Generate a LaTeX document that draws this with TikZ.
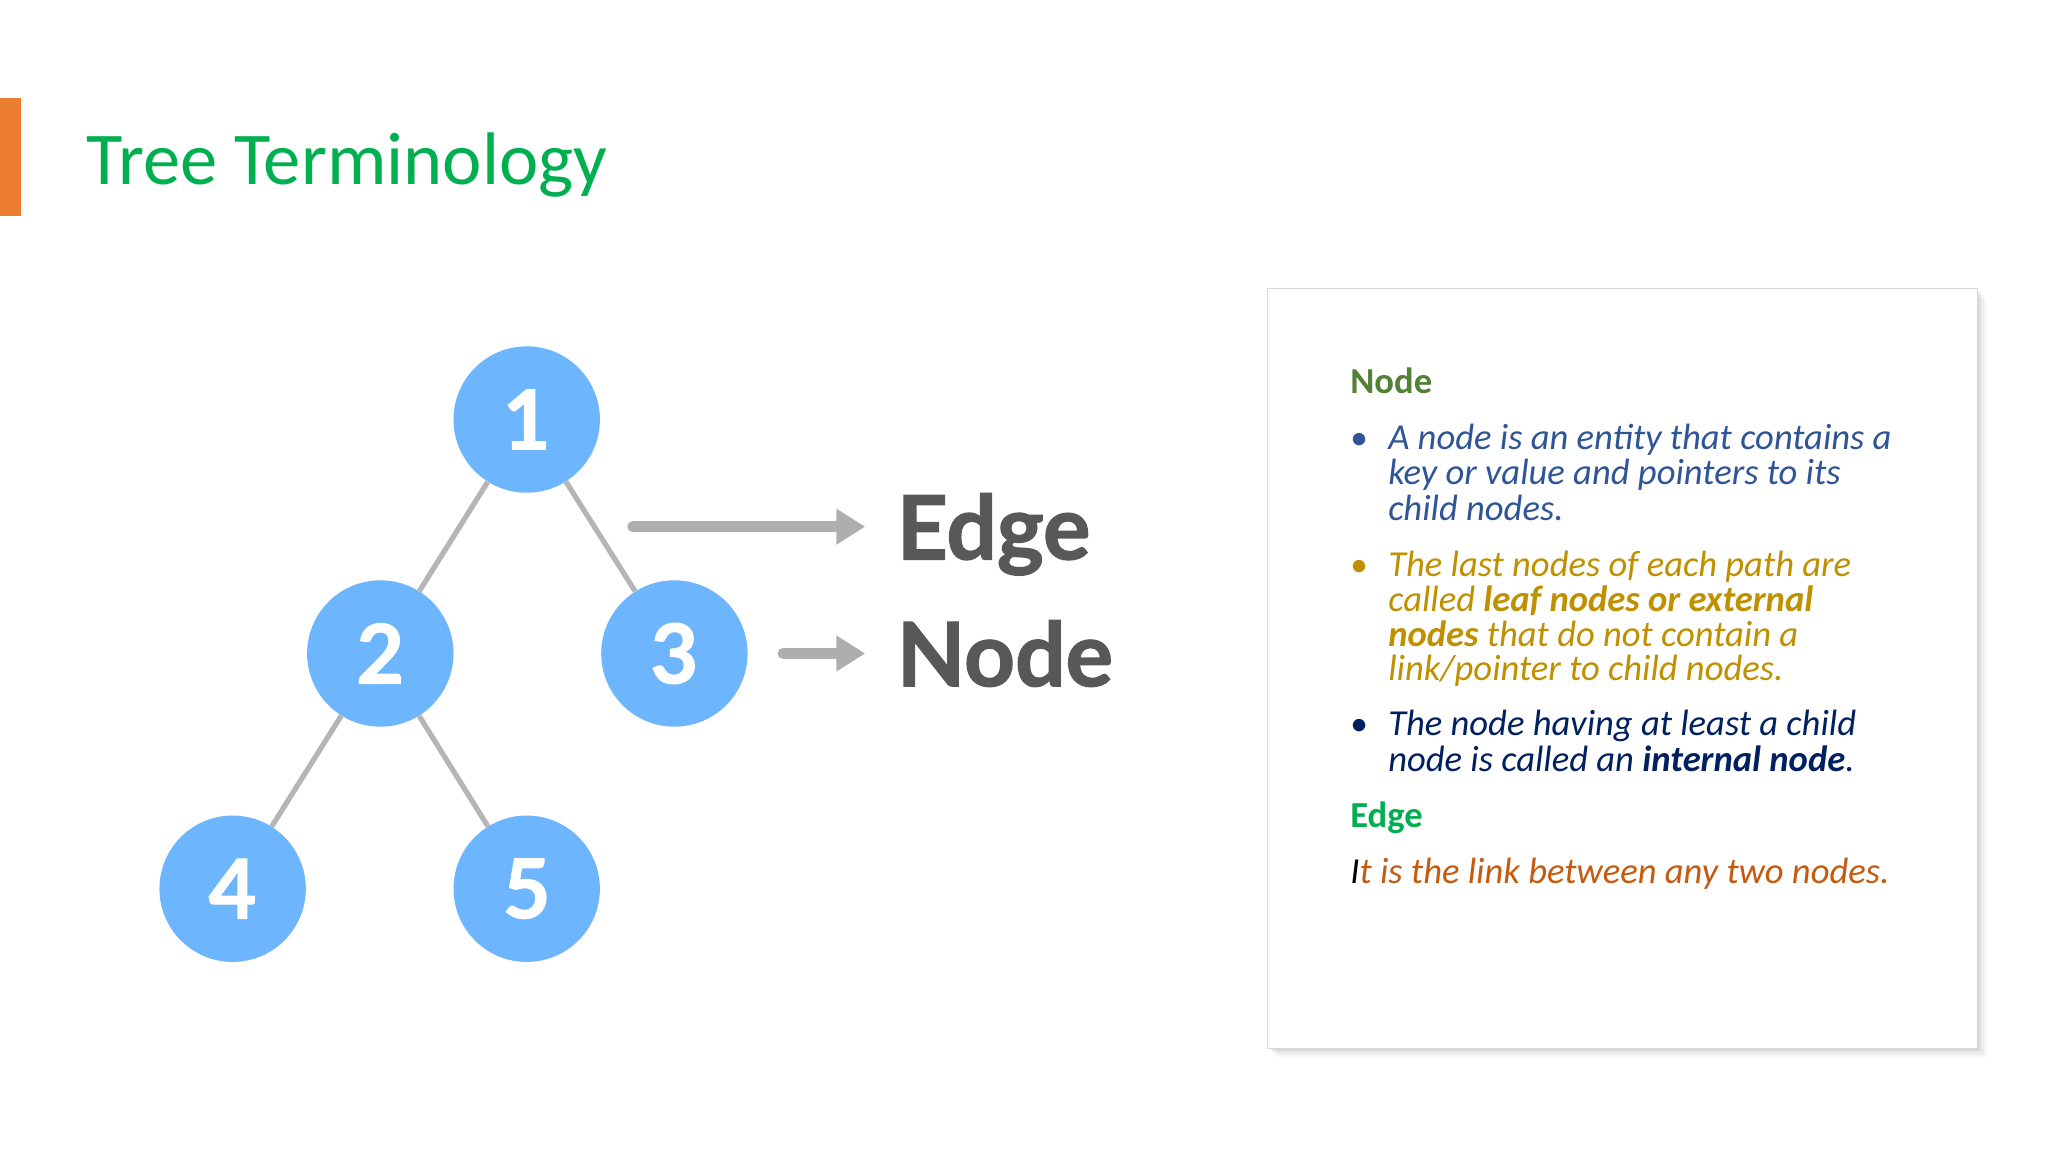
\documentclass[tikz,border=0pt]{standalone}
\usepackage{fontspec}
\setmainfont{Carlito}
\newfontfamily\lato{Lato}[BoldFeatures={FakeBold=1.4}]
\usetikzlibrary{arrows.meta}
\definecolor{titlegreen}{HTML}{00B050}
\definecolor{barorange}{HTML}{ED7D31}
\definecolor{nodeblue}{HTML}{6DB5FD}
\definecolor{edgegray}{HTML}{B5B5B5}
\definecolor{arrowgray}{HTML}{AEAEAE}
\definecolor{labelgray}{HTML}{585858}
\definecolor{boxborder}{HTML}{D9D9D9}
\definecolor{headgreen}{HTML}{538135}
\definecolor{blueone}{HTML}{2F5597}
\definecolor{goldtwo}{HTML}{BF9000}
\definecolor{navythree}{HTML}{002060}
\definecolor{rustfour}{HTML}{C55A11}
\begin{document}
\begin{tikzpicture}[x=1pt,y=-1pt,
  treenode/.style={circle, fill=nodeblue, minimum size=112pt, inner sep=0pt, text=white,
    font=\lato\bfseries\fontsize{63}{63}\selectfont},
  treeedge/.style={draw=edgegray, line width=4pt},
  pointer/.style={draw=arrowgray, line width=8pt, line cap=round,
    -{Triangle[length=22pt,width=26pt]}},
  biglabel/.style={anchor=base west, inner sep=0pt, text=labelgray,
    font=\lato\bfseries\fontsize{68}{68}\selectfont},
  bodyline/.style={anchor=base west, inner sep=0pt,
    font=\itshape\fontsize{28}{28}\selectfont},
  headline/.style={anchor=base west, inner sep=0pt,
    font=\bfseries\fontsize{28}{28}\selectfont},
  bulletdot/.style={anchor=base west, inner sep=0pt,
    font=\fontsize{27}{27}\selectfont}
  ]
\useasboundingbox (0,0) rectangle (1567,881.4);
\fill[white] (0,0) rectangle (1567,881.4);
% title bar
\fill[barorange] (0,75) rectangle (16,165);
\node[anchor=base west, inner sep=0pt, text=titlegreen,
  font=\fontsize{57}{60}\selectfont] (title) at (66,141) {Tree Terminology};
% tree
\node[treenode] (n1) at (403,321) {1};
\node[treenode] (n2) at (291,500) {2};
\node[treenode] (n3) at (516,500) {3};
\node[treenode] (n4) at (178,680) {4};
\node[treenode] (n5) at (403,680) {5};
\draw[treeedge] (n1) -- (n2);
\draw[treeedge] (n1) -- (n3);
\draw[treeedge] (n2) -- (n4);
\draw[treeedge] (n2) -- (n5);
% pointers
\coordinate (ea) at (484,403);
\coordinate (eb) at (662,403);
\coordinate (na) at (599,500);
\coordinate (nb) at (662,500);
\draw[pointer] (ea) -- (eb);
\draw[pointer] (na) -- (nb);
\node[biglabel] (edgelabel) at (686,428) {Edge};
\node[biglabel] (nodelabel) at (686,525) {Node};
% box with shadow
\foreach \d/\o in {7/0.03,5/0.04,3/0.05,1.5/0.06}{
  \fill[black, opacity=\o] (970+\d,221+\d) rectangle (1513+\d,802+\d);
}
\draw[boxborder, fill=white, line width=1pt] (970,221) rectangle (1513,802);
% box text
\node[headline, text=headgreen] (hnode) at (1033,301) {Node};
\node[bulletdot, text=blueone] (b1) at (1033,344) {•};
\node[bodyline, text=blueone] (l1a) at (1062,344) {A node is an entity that contains a};
\node[bodyline, text=blueone] (l1b) at (1062,371) {key or value and pointers to its};
\node[bodyline, text=blueone] (l1c) at (1062,398) {child nodes.};
\node[bulletdot, text=goldtwo] (b2) at (1033,441) {•};
\node[bodyline, text=goldtwo] (l2a) at (1062,441) {The last nodes of each path are};
\node[bodyline, text=goldtwo] (l2b) at (1062,468) {called \textbf{leaf nodes or external}};
\node[bodyline, text=goldtwo] (l2c) at (1062,495) {\textbf{nodes} that do not contain a};
\node[bodyline, text=goldtwo] (l2d) at (1062,521) {link/pointer to child nodes.};
\node[bulletdot, text=navythree] (b3) at (1033,563) {•};
\node[bodyline, text=navythree] (l3a) at (1062,563) {The node having at least a child};
\node[bodyline, text=navythree] (l3b) at (1062,590) {node is called an \textbf{internal node}.};
\node[headline, text=titlegreen] (hedge) at (1033,633) {Edge};
\node[bodyline, text=rustfour] (l4) at (1033,676) {\textcolor{black}{I}t is the link between any two nodes.};
\end{tikzpicture}
\end{document}
